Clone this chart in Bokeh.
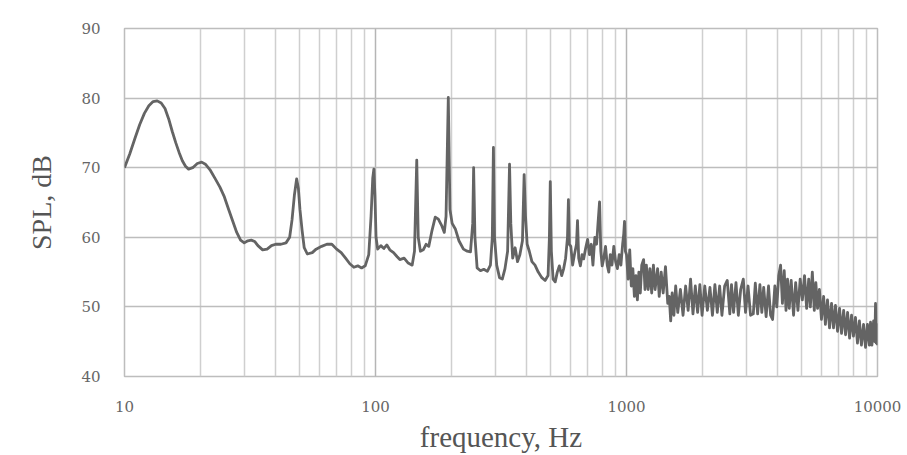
from bokeh.plotting import figure
from bokeh.models import FixedTicker, Range1d, ColumnDataSource
from bokeh.embed import file_html
from bokeh.resources import INLINE

# ---- data ----
freq_hz = [
    10, 10.5, 11, 11.5, 12, 12.5, 13, 13.5, 14, 14.5, 15, 15.5, 16, 16.5, 17, 17.5, 18,
    18.7, 19.5, 20.3, 21, 22, 23, 24, 25, 26, 27, 28, 29, 30, 31, 32, 33, 34, 35.5, 37,
    38.5, 40, 42, 44, 45.5, 46.5, 47.5, 48.5, 49.3, 50, 51, 52, 53.5, 56, 58, 61, 64, 67,
    70, 73, 76, 79, 82, 85, 88, 91, 94, 96, 97.5, 98.5, 99.5, 100.5, 102, 105, 108, 111,
    114, 118, 122, 125, 130, 135, 140, 143, 146, 148, 151, 155, 159, 163, 168, 173, 178,
    184, 188, 191, 195, 198, 202, 208, 215, 224, 232, 239, 244, 246, 249, 254, 262, 270,
    279, 287, 292, 295, 298, 304, 312, 320, 328, 336, 342, 346, 352, 360, 368, 376, 385,
    391, 396, 402, 410, 420, 432, 445, 460, 474, 487, 493, 497, 502, 510, 520, 530, 540,
    552, 562, 572, 582, 587, 592, 600, 610, 620, 632, 638, 645, 655, 665, 675, 688, 700,
    712, 724, 735, 748, 760, 770, 781, 790, 800, 812, 825, 838, 850, 862, 875, 890, 905,
    920, 935, 950, 965, 975, 982, 990,
    1000, 1015, 1030, 1045, 1060, 1075, 1090, 1105, 1120, 1135, 1150, 1170, 1185, 1200,
    1220, 1240, 1260, 1280, 1300, 1330, 1350, 1375, 1400, 1430, 1460, 1480, 1500, 1520,
    1545, 1570, 1600, 1640, 1680, 1720, 1760, 1800, 1840, 1880, 1920, 1960, 2000, 2050,
    2100, 2150, 2200, 2250, 2300, 2350, 2400, 2460, 2520, 2580, 2620, 2670, 2730, 2790,
    2850, 2920, 2980, 3050, 3120, 3200, 3260, 3330, 3400, 3460, 3520, 3600, 3680, 3750,
    3820, 3900, 3970, 4040, 4110, 4180, 4250, 4320, 4380, 4450, 4530, 4630, 4720, 4820,
    4920, 5020, 5120, 5220, 5320, 5400, 5500, 5600, 5680, 5770, 5870, 5980, 6100, 6200,
    6320, 6440, 6560, 6680, 6800, 6930, 7060, 7190, 7330, 7460, 7600, 7740, 7880, 8020,
    8170, 8320, 8470, 8630, 8800, 8960, 9120, 9280, 9380, 9500, 9650, 9760, 9820, 9880,
    9940, 10000,
]
spl_db = [
    70.0, 72.0, 74.2, 76.2, 77.8, 78.9, 79.5, 79.6, 79.3, 78.5, 77.0, 75.2, 73.6, 72.2,
    71.0, 70.2, 69.8, 70.0, 70.6, 70.8, 70.5, 69.6, 68.4, 67.2, 65.8, 64.0, 62.3, 60.7,
    59.6, 59.2, 59.5, 59.6, 59.4, 58.8, 58.2, 58.3, 58.8, 59.0, 59.0, 59.2, 60.0, 62.5,
    66.0, 68.4, 67.0, 64.0, 61.0, 58.5, 57.6, 57.8, 58.3, 58.7, 59.0, 59.0, 58.3, 57.8,
    57.0, 56.2, 55.7, 55.9, 55.6, 55.9, 57.5, 63.0, 68.5, 69.8, 66.0, 60.0, 58.3, 58.8,
    58.4, 58.9, 58.2, 57.8, 57.2, 56.8, 57.0, 56.3, 56.0, 58.0, 71.1, 60.0, 58.0, 58.2,
    59.0, 58.7, 61.0, 62.9, 62.6, 61.6, 60.7, 63.0, 80.1, 64.0, 62.0, 61.2, 59.5, 58.3,
    58.0, 57.9, 62.0, 70.0, 60.0, 55.6, 55.2, 55.4, 55.1, 56.0, 60.0, 72.9, 60.0, 56.0,
    54.2, 54.0, 55.5, 58.0, 70.5, 62.0, 57.0, 58.5, 56.5, 57.5, 59.5, 69.0, 63.0, 59.0,
    58.0, 56.5, 56.0, 55.0, 54.2, 53.8, 54.5, 60.0, 68.0, 58.0, 54.0, 53.6, 55.0, 55.9,
    54.5, 55.5, 57.0, 60.0, 65.4, 59.0, 58.7, 56.0, 57.5, 59.0, 62.4, 57.0, 55.9, 57.5,
    56.9, 58.5, 59.7, 57.5, 59.0, 56.0, 60.0, 59.0, 62.0, 65.1, 58.0, 55.9, 57.0, 58.7,
    56.0, 55.0, 57.5, 56.0, 58.7, 56.5, 55.5, 57.5, 56.0, 59.0, 60.5, 62.3, 58.0,
    57.5, 54.0, 58.2, 53.0, 55.5, 51.5, 54.5, 51.0, 55.0, 52.0, 56.0, 56.8, 52.5, 56.0,
    52.5, 55.5, 52.0, 56.0, 52.5, 55.5, 51.5, 55.0, 52.0, 55.8, 50.5, 51.5, 48.0, 52.0,
    48.8, 53.0, 49.2, 52.5, 48.8, 53.0, 49.5, 54.0, 49.0, 53.0, 49.2, 53.2, 48.8, 53.0,
    49.5, 52.8, 48.8, 53.2, 49.2, 53.0, 48.8, 53.0, 53.8, 49.0, 53.2, 49.2, 53.5, 48.8,
    52.5, 54.0, 49.2, 53.0, 48.8, 49.0, 53.4, 49.0, 53.2, 49.2, 52.8, 48.6, 53.0, 48.8,
    48.2, 53.0, 50.0, 54.5, 56.0, 50.5, 55.2, 49.5, 54.0, 49.8, 53.8, 48.8, 53.5, 49.5,
    54.0, 51.0, 54.5, 49.8, 54.0, 50.0, 55.0, 49.5, 53.5, 49.8, 52.5, 48.2, 51.5, 47.5,
    51.0, 47.0, 50.5, 47.0, 50.2, 46.5, 49.8, 46.2, 49.5, 46.0, 49.2, 45.5, 48.8, 45.8,
    48.5, 44.8, 48.0, 44.5, 47.5, 44.2, 47.5, 44.5, 47.8, 44.5, 48.0, 45.0, 50.5, 44.8,
    47.5, 44.5,
]

x_ticks = [10, 100, 1000, 10000]
x_tick_labels = {10: "10", 100: "100", 1000: "1000", 10000: "10000"}
x_minor = [20, 30, 40, 50, 60, 70, 80, 90,
           200, 300, 400, 500, 600, 700, 800, 900,
           2000, 3000, 4000, 5000, 6000, 7000, 8000, 9000]
y_ticks = [40, 50, 60, 70, 80, 90]

SERIF = "Liberation Serif"

p = figure(width=907, height=455, x_axis_type="log",
           x_range=Range1d(10, 10000), y_range=Range1d(40, 90),
           output_backend="svg", toolbar_location=None,
           min_border_left=124, min_border_right=30,
           min_border_top=28, min_border_bottom=77)

src = ColumnDataSource(dict(f=freq_hz, db=spl_db))
p.line("f", "db", source=src, line_color="#646464", line_width=2.8,
       line_join="round")

# axes
p.xaxis.ticker = FixedTicker(ticks=x_ticks, minor_ticks=x_minor)
p.xaxis.major_label_overrides = x_tick_labels
p.yaxis.ticker = FixedTicker(ticks=y_ticks)
for ax in (p.xaxis[0], p.yaxis[0]):
    ax.axis_line_color = None
    ax.major_tick_line_color = None
    ax.minor_tick_line_color = None
    ax.major_label_text_font = "DejaVu Serif"
    ax.major_label_text_font_size = "15px"
    ax.major_label_text_color = "#666666"
    ax.axis_label_text_font = SERIF
    ax.axis_label_text_font_style = "normal"
    ax.axis_label_text_color = "#555555"
p.xaxis.axis_label = "frequency, Hz"
p.yaxis.axis_label = "SPL, dB"
p.xaxis.axis_label_text_font_size = "29px"
p.yaxis.axis_label_text_font_size = "28px"
p.xaxis.major_label_standoff = 18
p.yaxis.major_label_standoff = 18
p.xaxis.axis_label_standoff = 6
p.yaxis.axis_label_standoff = 21

# grid
p.xgrid.grid_line_color = "#b5b5b5"
p.xgrid.grid_line_width = 1.5
p.xgrid.minor_grid_line_color = "#cfcfcf"
p.xgrid.minor_grid_line_width = 1.5
p.ygrid.grid_line_color = "#bdbdbd"
p.ygrid.grid_line_width = 1.5

p.outline_line_color = "#bdbdbd"
p.outline_line_width = 1.5
p.background_fill_color = "white"
p.border_fill_color = "white"

open("out.html", "w").write(file_html(p, INLINE))
